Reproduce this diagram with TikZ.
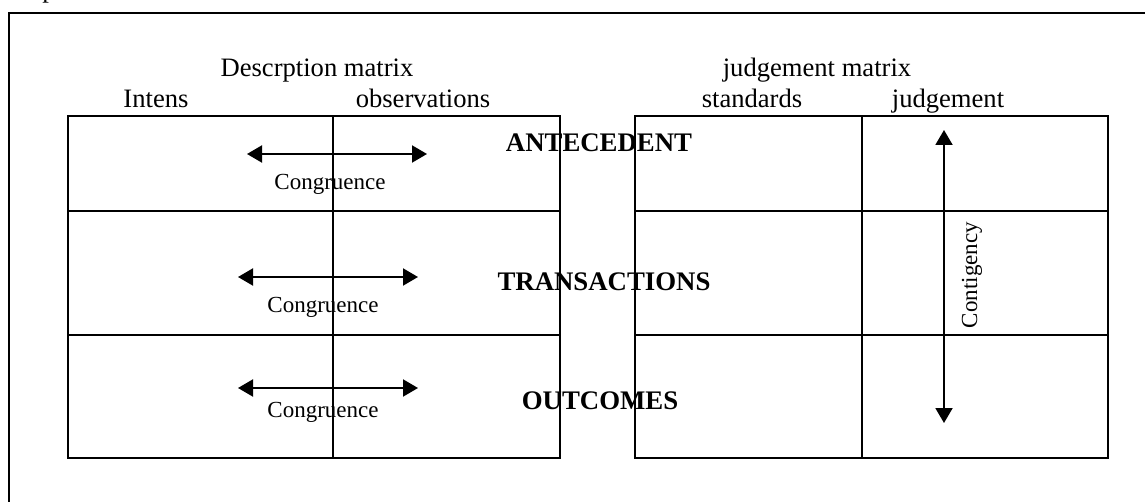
\documentclass[tikz,border=0pt]{standalone}
\usepackage{fontspec}
\setmainfont{Liberation Serif}
\usetikzlibrary{arrows.meta}

\tikzset{
	cell/.style={draw,line width=0.8pt,inner sep=0pt,anchor=north west},
	twoway/.style={{Triangle[length=7.5pt,width=8.5pt]}-{Triangle[length=7.5pt,width=8.5pt]},line width=1pt},
	head/.style={font=\fontsize{13.3}{16}\selectfont,inner sep=0pt,anchor=base},
	rowname/.style={font=\fontsize{13.4}{16}\bfseries\selectfont,inner sep=0pt,anchor=base},
	note/.style={font=\fontsize{11.5}{14}\selectfont,inner sep=0pt,anchor=base}
}

\begin{document}
\begin{tikzpicture}[x=0.5pt,y=-0.5pt]
		\useasboundingbox (0,0) rectangle (1145,502);
		% outer frame, cut off by the page
		\draw[line width=1pt] (9,520) -- (9,13) -- (1160,13);
		\node[head,anchor=base west] (pg) at (42,-2) {p};
		% the two matrices
		\foreach \r/\y/\h in {1/115/47.5,2/210/62,3/334/61.5} {
			\node[cell,minimum width=132.5pt,minimum height=\h pt] (int\r) at (67,\y) {};
			\node[cell,minimum width=113.5pt,minimum height=\h pt] (obs\r) at (332,\y) {};
			\node[cell,minimum width=113.5pt,minimum height=\h pt] (std\r) at (634,\y) {};
			\node[cell,minimum width=123pt,minimum height=\h pt] (jdg\r) at (861,\y) {};
		}
		% headings
		\node[head] (descr) at (317,77) {Descrption matrix};
		\node[head] (intens) at (156,108) {Intens};
		\node[head] (obshead) at (423,108) {observations};
		\node[head] (jmat) at (817,77) {judgement matrix};
		\node[head] (stdhead) at (752,108) {standards};
		\node[head] (jdghead) at (948,108) {judgement};
		% rows
		\node[rowname] (ante) at (599,152) {ANTECEDENT};
		\node[rowname] (trans) at (604,290) {TRANSACTIONS};
		\node[rowname] (outc) at (600,409) {OUTCOMES};
		% congruence arrows
		\coordinate (c1a) at (247,154); \coordinate (c1b) at (427,154);
		\coordinate (c2a) at (238,277); \coordinate (c2b) at (418,277);
		\coordinate (c3a) at (238,388); \coordinate (c3b) at (418,388);
		\draw[twoway] (c1a) -- (c1b);
		\draw[twoway] (c2a) -- (c2b);
		\draw[twoway] (c3a) -- (c3b);
		\node[note] (cong1) at (330,190) {Congruence};
		\node[note] (cong2) at (323,312) {Congruence};
		\node[note] (cong3) at (323,417) {Congruence};
		% contigency arrow
		\coordinate (ktop) at (944,130); \coordinate (kbot) at (944,423);
		\draw[twoway] (ktop) -- (kbot);
		\node[note,rotate=90] (conti) at (977,275) {Contigency};
\end{tikzpicture}
\end{document}
